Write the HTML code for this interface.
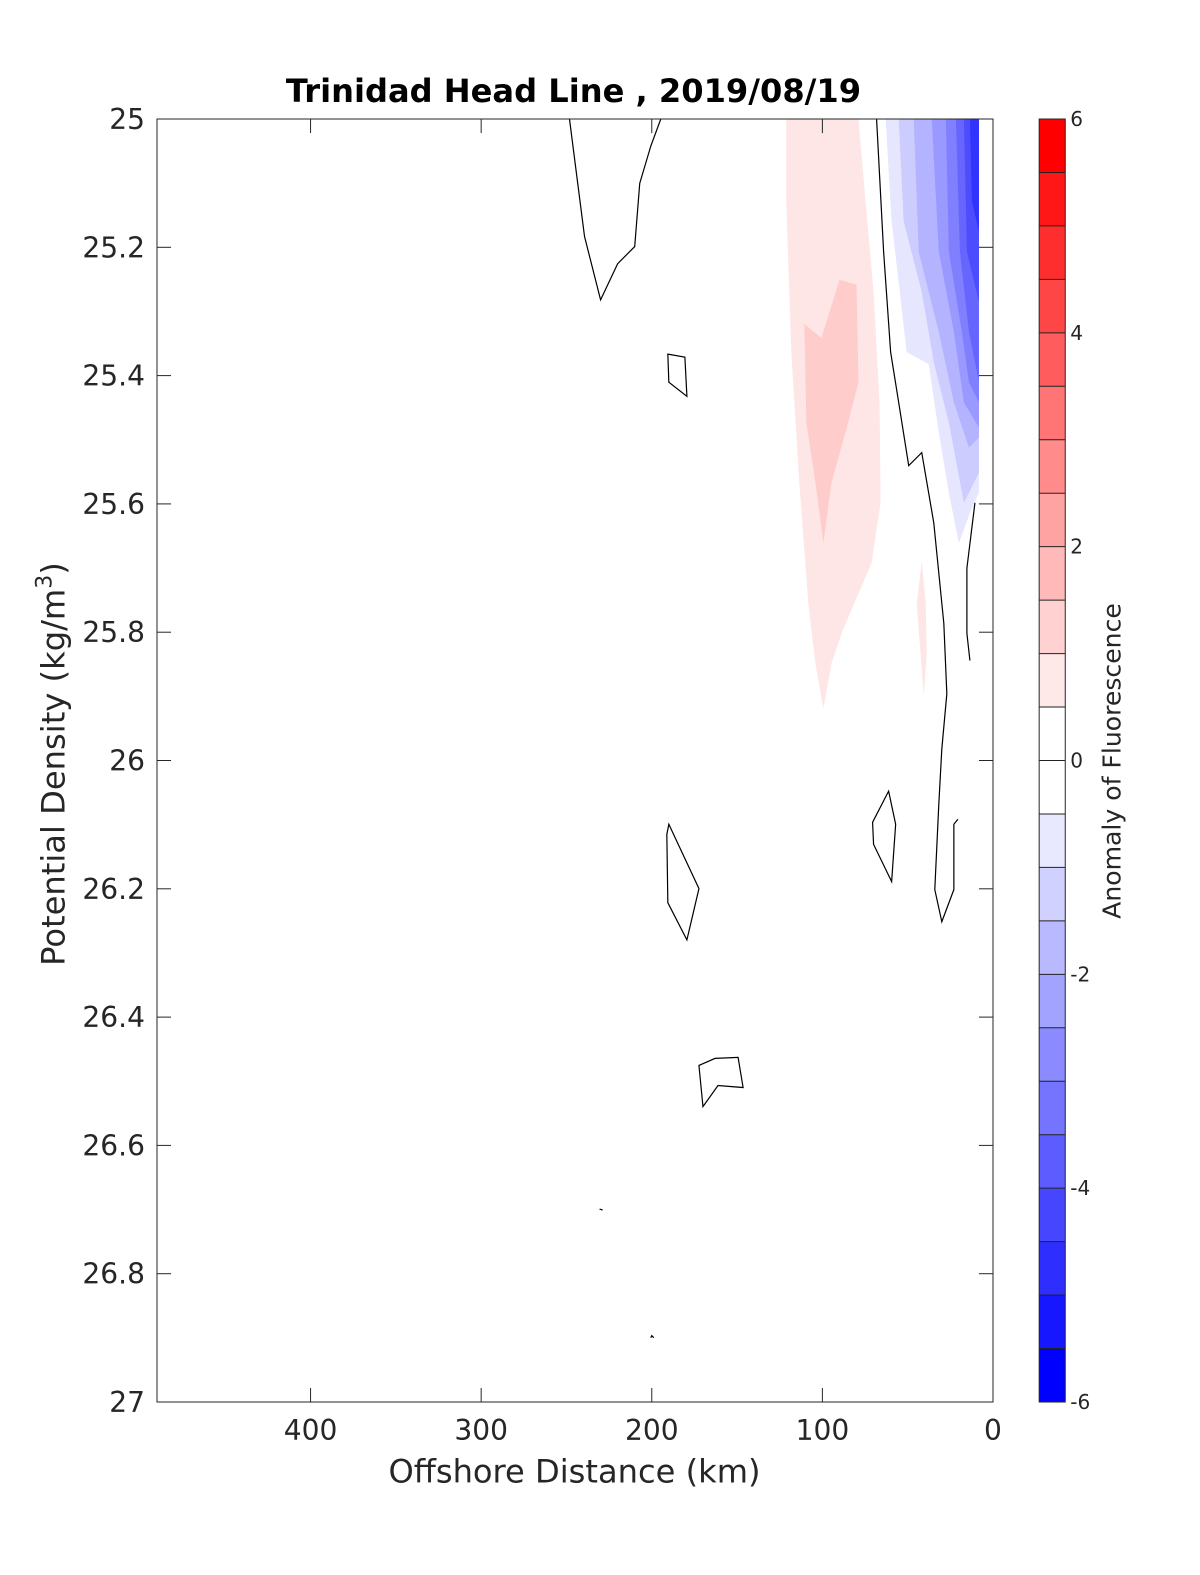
<!DOCTYPE html>
<html><head><meta charset="utf-8"><style>
body{margin:0;background:#fff;}
svg{display:block;font-family:"DejaVu Sans","Liberation Sans",sans-serif;}
</style></head><body>
<svg id="s" width="1200" height="1575" viewBox="0 0 1200 1575" xmlns="http://www.w3.org/2000/svg">
<rect width="1200" height="1575" fill="#fff"/>
<g transform="matrix(1.0036 0 0 1.0047 0.44 0.45)">
<polygon fill="#ffe6e6" points="783,118 855,118 862,200 870,290 876,400 877,500 868,560 840,625 828,660 820,705 812,660 805,600 796,480 788,350 783,200"/>
<polygon fill="#ffcccc" points="801,322 818,336 836,278 853,283 855,380 842,430 828,480 820,540 812,480 803,420"/>
<polygon fill="#ffe6e6" points="918,558 922,600 923,650 920,692 916,640 913,600"/>
<polygon fill="#e6e6ff" points="882,118 975,118 975,490 968,505 955,540 945,490 935,430 925,362 903,350 888,220"/>
<polygon fill="#ccccff" points="895,118 975,118 975,470 960,500 945,420 930,360 918,290 900,220"/>
<polygon fill="#b3b3ff" points="910,118 975,118 975,435 965,445 950,400 935,330 915,250"/>
<polygon fill="#9999ff" points="928,118 975,118 975,425 960,400 950,330 935,250"/>
<polygon fill="#8080ff" points="942,118 975,118 975,400 965,380 958,330 945,250"/>
<polygon fill="#6666ff" points="952,118 975,118 975,380 965,330 956,250"/>
<polygon fill="#4d4dff" points="960,118 975,118 975,300 963,250"/>
<polygon fill="#3333ff" points="966,118 975,118 975,230 968,200"/>
<g fill="none" stroke="#000" stroke-width="1.2">
<polyline points="567,118 582,235 598,298 615,262 632,245 637,182 648,145 658,118"/>
<polygon points="665,352 682,355 684,394 666,380"/>
<polyline points="873,118 880,250 887,350 895,400 905,463 918,450 930,520 940,620 943,690 938,745 935,800 931,885 938,917 950,885 950,820 954,815"/>
<polyline points="971,500 963,565 963,630 966,657"/>
<polygon points="869,818 885,787 892,820 888,877 870,840"/>
<polygon points="666,820 696,884 684,935 665,898 664,830"/>
<polygon points="696,1060 712,1053 735,1052 740,1082 715,1080 700,1101"/>
<polyline points="597,1203 600,1204"/>
<polyline points="648,1331 649,1329 651,1331"/>
</g>
<rect x="156" y="118" width="833" height="1277" fill="none" stroke="#262626" stroke-width="1"/>
<g id="ticks" stroke="#262626" stroke-width="1"></g>
<g id="labels" fill="#262626"></g>
<text x="571" y="101" text-anchor="middle" font-size="32" font-weight="bold" fill="#000">Trinidad Head Line , 2019/08/19</text>
<text x="572" y="1475" text-anchor="middle" font-size="32" fill="#262626">Offshore Distance (km)</text>
<text transform="translate(64,760) rotate(-90)" text-anchor="middle" font-size="32" fill="#262626">Potential Density (kg/m<tspan dy="-13" font-size="22">3</tspan><tspan dy="13">)</tspan></text>
<g id="cb"></g>
<rect x="1035" y="118" width="26" height="1277" fill="none" stroke="#262626"/>
<text transform="translate(1116,757) rotate(-90)" text-anchor="middle" font-size="25" fill="#262626">Anomaly of Fluorescence</text>
</g>
</svg>
<script>
const NS="http://www.w3.org/2000/svg";
function el(p,t,a,txt){const e=document.createElementNS(NS,t);for(const k in a)e.setAttribute(k,a[k]);if(txt!==undefined)e.textContent=txt;document.getElementById(p).appendChild(e);}
[[400,309],[300,479],[200,649],[100,819],[0,989]].forEach(([v,x])=>{
 el("ticks","line",{x1:x,y1:1395,x2:x,y2:1381});el("ticks","line",{x1:x,y1:118,x2:x,y2:132});
 el("labels","text",{x:x,y:1433,"text-anchor":"middle","font-size":28},String(v));});
const yl=["25","25.2","25.4","25.6","25.8","26","26.2","26.4","26.6","26.8","27"];
yl.forEach((t,i)=>{const y=118+i*127.7;
 el("ticks","line",{x1:156,y1:y,x2:170,y2:y});el("ticks","line",{x1:989,y1:y,x2:975,y2:y});
 el("labels","text",{x:144,y:y+10,"text-anchor":"end","font-size":28},t);});
const h=1277/24;
for(let i=0;i<24;i++){const y=118+i*h;let c;
 if(i<12){const k=11-i;const w=Math.round(255*(1-k/11));c=`rgb(255,${w},${w})`;}
 else{const k=i-12;const w=Math.round(255*(1-k/11));c=`rgb(${w},${w},255)`;}
 el("cb","rect",{x:1035,y:y,width:26,height:h+0.5,fill:c});
 if(i>0)el("cb","line",{x1:1035,y1:y,x2:1061,y2:y,stroke:"#222","stroke-width":1});}
[6,4,2,0,-2,-4,-6].forEach(v=>{const y=118+(6-v)/12*1277;
 el("cb","text",{x:1066,y:y+7,"font-size":20,fill:"#262626"},String(v));});
</script>
</body></html>
